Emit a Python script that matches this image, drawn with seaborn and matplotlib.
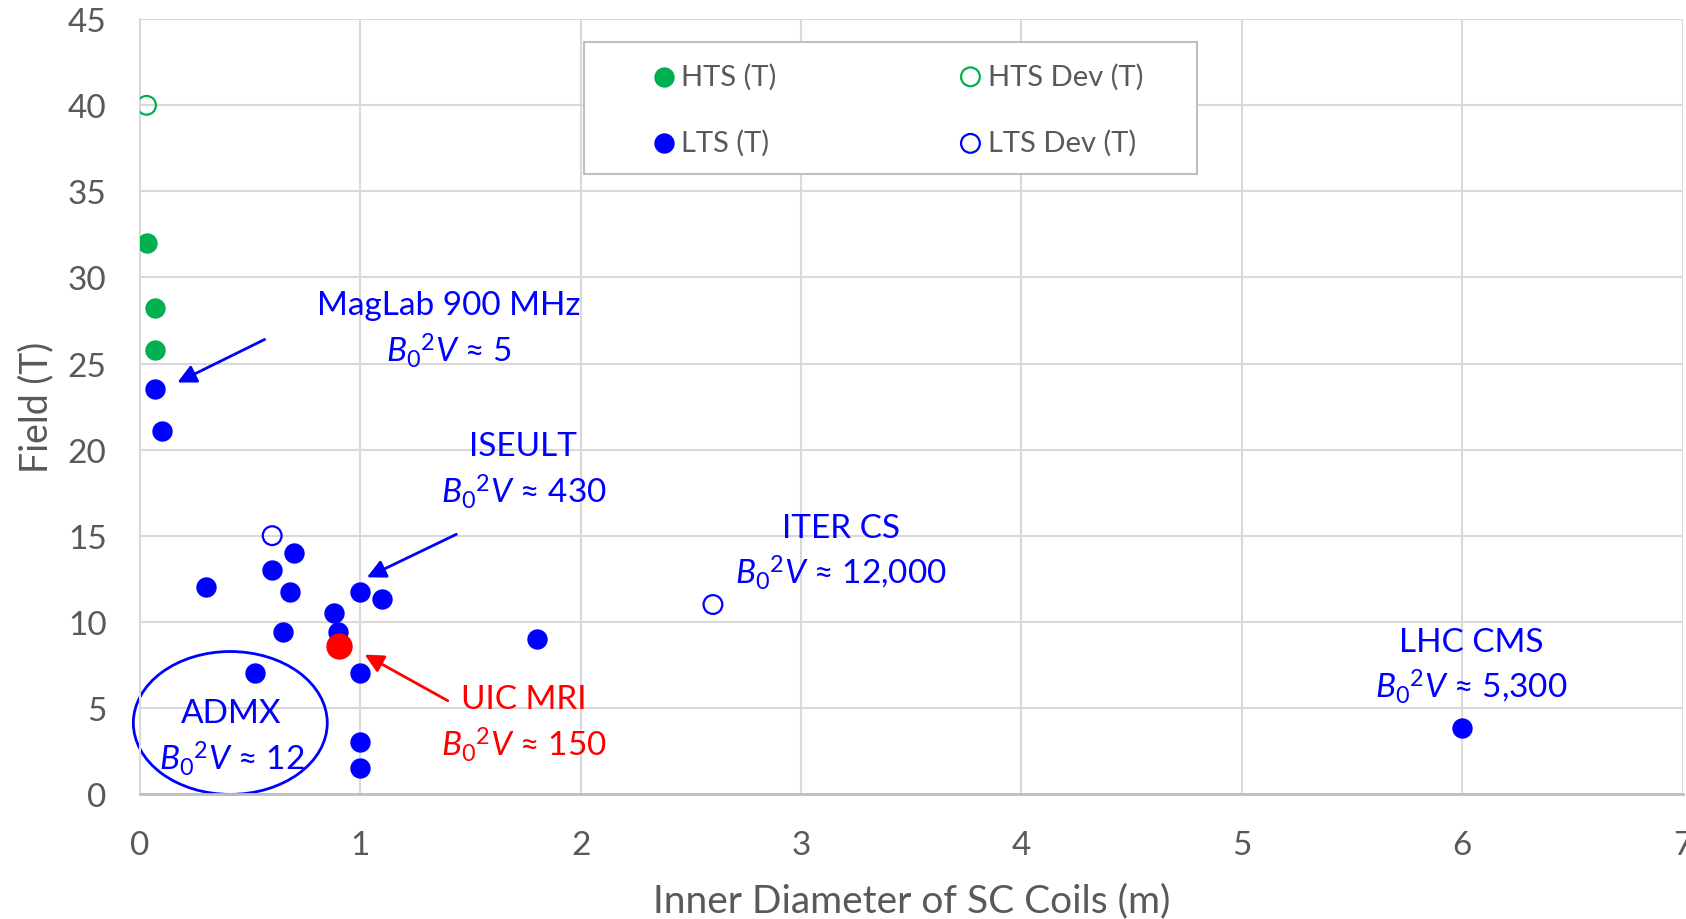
import numpy as np
import pandas as pd
import matplotlib
matplotlib.use("Agg")
import matplotlib.pyplot as plt
from matplotlib.patches import Ellipse, Rectangle
import seaborn as sns

# ---- data ----
hts_x = [0.03, 0.07, 0.07]
hts_y = [32.0, 28.2, 25.8]
hts_dev_x = [0.03]
hts_dev_y = [40.0]
lts_x = [0.07, 0.10, 0.30, 0.60, 0.70, 0.68, 0.65, 0.52, 0.88, 0.90, 1.00, 1.10, 1.00, 1.00, 1.00, 1.80, 6.00]
lts_y = [23.5, 21.1, 12.0, 13.0, 14.0, 11.7, 9.4, 7.0, 10.5, 9.4, 11.75, 11.3, 7.0, 3.0, 1.5, 9.0, 3.8]
lts_dev_x = [0.60, 2.60]
lts_dev_y = [15.0, 11.0]
uic_x = [0.905]
uic_y = [8.6]

x_ticks = [0, 1, 2, 3, 4, 5, 6, 7]
y_ticks = [0, 5, 10, 15, 20, 25, 30, 35, 40, 45]

GREEN = "#00b050"
BLUE = "#0000ff"
RED = "#ff0000"
GRAY = "#595959"
FONT = "Lato"

sns.set_theme(style="white")
plt.rcParams["font.family"] = [FONT, "DejaVu Sans"]
plt.rcParams["mathtext.fontset"] = "custom"
plt.rcParams["mathtext.rm"] = FONT
plt.rcParams["mathtext.it"] = FONT + ":italic"

fig = plt.figure(figsize=(16.86, 9.2), dpi=100)
ax = fig.add_axes([0.083, 0.136, 0.915, 0.842])

S = 215
sns.scatterplot(x=hts_x, y=hts_y, ax=ax, color=GREEN, s=S, edgecolor=GREEN, linewidth=0, label="HTS (T)", zorder=3)
sns.scatterplot(x=lts_x, y=lts_y, ax=ax, color=BLUE, s=S, edgecolor=BLUE, linewidth=0, label="LTS (T)", zorder=3)
sns.scatterplot(x=hts_dev_x, y=hts_dev_y, ax=ax, facecolor="none", edgecolor=GREEN, s=S * 0.85, linewidth=1.6, label="HTS Dev (T)", zorder=3)
sns.scatterplot(x=lts_dev_x, y=lts_dev_y, ax=ax, facecolor="none", edgecolor=BLUE, s=S * 0.85, linewidth=1.6, label="LTS Dev (T)", zorder=3)
sns.scatterplot(x=uic_x, y=uic_y, ax=ax, color=RED, s=360, edgecolor=RED, linewidth=0, legend=False, zorder=4)

ax.set_xlim(0, 7)
ax.set_ylim(0, 45)
ax.set_xticks(x_ticks)
ax.set_yticks(y_ticks)
ax.grid(True, color="#d9d9d9", linewidth=1.5)
ax.set_axisbelow(True)
for side in ["top", "right"]:
    ax.spines[side].set_visible(False)
ax.spines["left"].set_color("#d9d9d9")
ax.spines["left"].set_linewidth(1.5)
ax.spines["bottom"].set_color("#bfbfbf")
ax.spines["bottom"].set_linewidth(2)
ax.tick_params(axis="both", length=0, labelsize=24, labelcolor=GRAY)
ax.tick_params(axis="x", pad=26)
ax.tick_params(axis="y", pad=24)
ax.set_xlabel("Inner Diameter of SC Coils (m)", fontsize=28, color=GRAY, labelpad=16)
ax.set_ylabel("Field (T)", fontsize=27, color=GRAY, labelpad=10)

FS = 24
B2V = r"$B_{\mathit{0}}{}^{2}V$"
def label(x, y1, y2, name, val, color):
    ax.text(x, y1, name, color=color, fontsize=FS, ha="center", va="center")
    ax.text(x, y2, B2V + " ≈ " + val, color=color, fontsize=FS, ha="center", va="center")

label(1.40, 28.4, 25.8, "MagLab 900 MHz", "5", BLUE)
label(1.74, 20.2, 17.6, "ISEULT", "430", BLUE)
label(3.18, 15.45, 12.9, "ITER CS", "12,000", BLUE)
label(6.04, 8.83, 6.28, "LHC CMS", "5,300", BLUE)
label(1.74, 5.53, 2.9, "UIC MRI", "150", RED)
label(0.415, 4.72, 2.1, "ADMX", "12", BLUE)

def arrow(tail, head, color):
    ax.annotate("", xy=head, xytext=tail,
                arrowprops=dict(arrowstyle="-|>", color=color, lw=2, mutation_scale=28, shrinkA=0, shrinkB=0))

arrow((0.566, 26.4), (0.17, 23.9), BLUE)
arrow((1.436, 15.08), (1.03, 12.58), BLUE)
arrow((1.397, 5.41), (1.02, 8.09), RED)

ax.add_patch(Ellipse((0.41, 4.12), 0.88, 8.3, fill=False, edgecolor=BLUE, lw=2, zorder=2, clip_on=False))

# legend box
ax.add_patch(Rectangle((0.2877, 0.7996), 0.6849 - 0.2877, 0.970 - 0.7996, transform=ax.transAxes,
                       facecolor="white", edgecolor="#bfbfbf", lw=1.5, zorder=5))
leg = ax.legend(loc="upper left", bbox_to_anchor=(0.330, 0.944),
                ncol=2, fontsize=21, frameon=False, borderpad=0, borderaxespad=0,
                labelspacing=1.36, handlelength=1.0, handletextpad=0.1,
                columnspacing=6.15, markerscale=1.0)
leg.set_zorder(6)
for t in leg.get_texts():
    t.set_color(GRAY)

fig.savefig("out.png", dpi=100, facecolor="white")
